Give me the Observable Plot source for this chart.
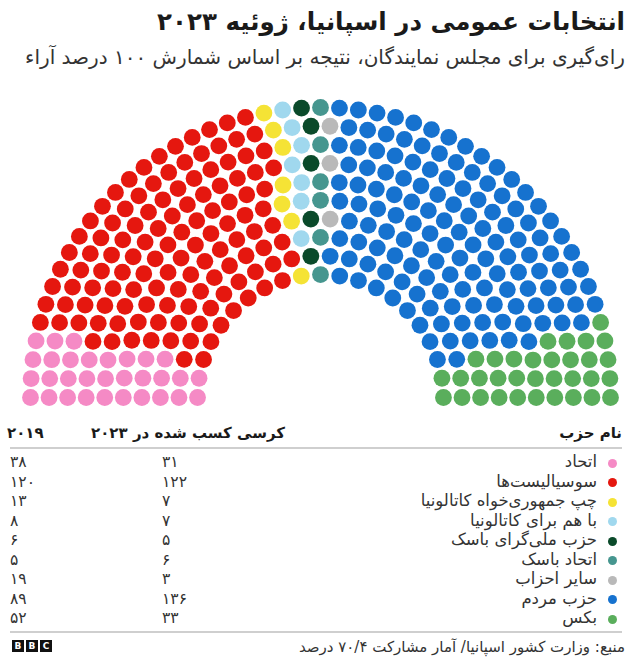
<!DOCTYPE html>
<html><head><meta charset="utf-8">
<script src="https://cdn.jsdelivr.net/npm/d3@7"></script>
<script src="https://cdn.jsdelivr.net/npm/@observablehq/plot@0.6"></script>
<style>
html,body{margin:0;padding:0;background:#fff;}
body{width:640px;height:660px;position:relative;overflow:hidden;font-family:"DejaVu Sans","Noto Sans",sans-serif;color:#222;}
.abs{position:absolute;white-space:nowrap;}
#title{right:15px;top:5px;direction:rtl;font-size:24.5px;font-weight:bold;line-height:34px;color:#1a1a1a;}
#subtitle{right:15px;top:42px;direction:rtl;font-size:20px;line-height:30px;color:#333;}
#chart{left:0;top:85px;}
.hdr{font-weight:bold;font-size:15px;line-height:20px;top:423px;color:#1a1a1a;}
.rule{height:2px;background:#cfcfcf;left:10px;width:612px;}
.cell{font-size:15.5px;line-height:20px;color:#333;}
.name{direction:rtl;right:43px;font-size:16.5px;}
.ldot{width:9px;height:9px;border-radius:50%;left:608px;}
#source{right:15px;top:637px;direction:rtl;font-size:15px;line-height:20px;color:#333;}
.bbc{top:640px;width:12px;height:12px;background:#111;color:#fff;font:bold 9px/12px "DejaVu Sans",sans-serif;text-align:center;}
</style></head><body>
<div id="title" class="abs">انتخابات عمومی در اسپانیا، ژوئیه ۲۰۲۳</div>
<div id="subtitle" class="abs">رای‌گیری برای مجلس نمایندگان، نتیجه بر اساس شمارش ۱۰۰ درصد آراء</div>
<div id="chart" class="abs"></div>
<div id="table"></div>
<div id="source" class="abs">منبع: وزارت کشور اسپانیا/ آمار مشارکت ۷۰/۴ درصد</div>
<div class="abs bbc" style="left:12px">B</div>
<div class="abs bbc" style="left:26px">B</div>
<div class="abs bbc" style="left:40px">C</div>
<script>
// ---- data ----
const parties = ["اتحاد","سوسیالیست‌ها","چپ جمهوری‌خواه کاتالونیا","با هم برای کاتالونیا","حزب ملی‌گرای باسک","اتحاد باسک","سایر احزاب","حزب مردم","بکس"];
const seats2023 = [31,122,7,7,5,6,3,136,33];
const seats2019 = [38,120,13,8,6,5,19,89,52];
const colors = ["#f58ac5","#e5170f","#f5e335","#a0d8ee","#0a4a2a","#46968f","#b9b9b9","#1672cf","#5aae5c"];
const headerParty = "نام حزب";
const header2023 = "کرسی کسب شده در ۲۰۲۳";
const header2019 = "۲۰۱۹";

const faDigits = "۰۱۲۳۴۵۶۷۸۹";
const fa = n => String(n).replace(/[0-9]/g, d => faDigits[+d]);

// ---- hemicycle layout ----
const total = d3.sum(seats2023);
const nRows = 10, inner = 0.424;
const radii = d3.range(nRows).map(i => inner + i * (1 - inner) / (nRows - 1));
const sumR = d3.sum(radii);
const perRow = radii.map(r => Math.round(total * r / sumR));
perRow[nRows - 1] += total - d3.sum(perRow);
const seats = [];
radii.forEach((r, i) => {
  const n = perRow[i];
  for (let k = 0; k < n; k++) {
    const t = Math.PI * k / (n - 1);
    seats.push({row: i, t, x: -r * Math.cos(t), y: r * Math.sin(t)});
  }
});
seats.sort((a, b) => (Math.round(a.t * 1e7) - Math.round(b.t * 1e7)) || (a.row - b.row));
let idx = 0;
parties.forEach((p, j) => { for (let s = 0; s < seats2023[j]; s++) seats[idx++].party = p; });

const plot = Plot.plot({
  width: 640, height: 330, margin: 0,
  x: {domain: [-1, 1], range: [30, 610], axis: null},
  y: {domain: [0, 1], range: [312, 22], axis: null},
  color: {domain: parties, range: colors},
  marks: [Plot.dot(seats, {x: "x", y: "y", r: 8.4, fill: "party", stroke: null})]
});
document.getElementById("chart").appendChild(plot);

// ---- table ----
const tbl = document.getElementById("table");
function add(cls, style, text) {
  const d = document.createElement("div");
  d.className = "abs " + cls;
  d.setAttribute("style", style);
  if (text != null) d.textContent = text;
  tbl.appendChild(d);
  return d;
}
add("hdr", "right:18px;direction:rtl", headerParty);
add("hdr", "right:355px;direction:rtl", header2023);
add("hdr", "left:7px", header2019);
add("rule", "top:447px");
add("rule", "top:631px");
parties.forEach((p, i) => {
  const cy = 463 + i * 19.5;
  add("ldot", `top:${cy - 4.5}px;background:${colors[i]}`);
  add("cell name", `top:${cy - 11}px`, p);
  add("cell", `top:${cy - 11}px;left:162px`, fa(seats2023[i]));
  add("cell", `top:${cy - 11}px;left:10px`, fa(seats2019[i]));
});
</script>
</body></html>
